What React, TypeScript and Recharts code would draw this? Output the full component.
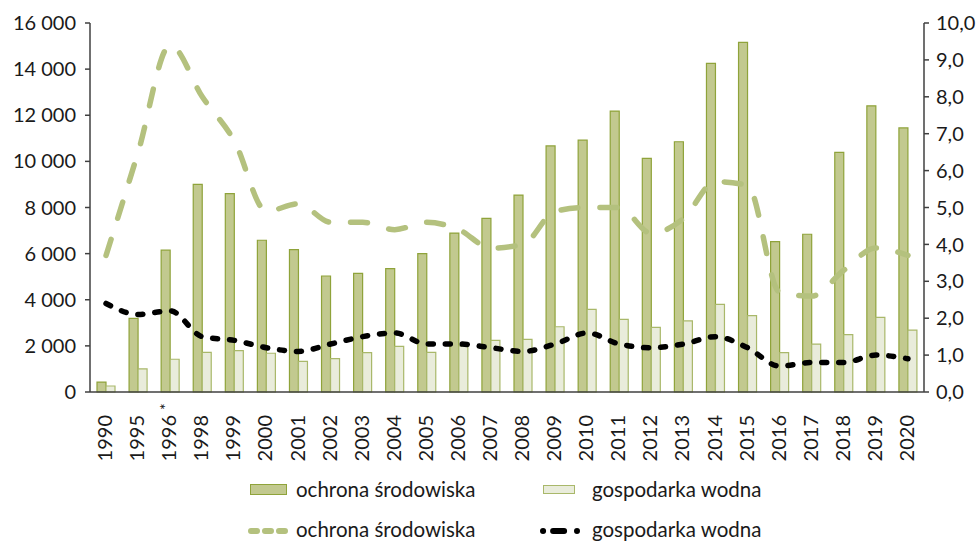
import { ComposedChart, Bar, Line, XAxis, YAxis } from 'recharts';

const years = [
  '1990', '1995', '1996', '1998', '1999', '2000', '2001', '2002', '2003', '2004', '2005', '2006', '2007',
  '2008', '2009', '2010', '2011', '2012', '2013', '2014', '2015', '2016', '2017', '2018', '2019', '2020',
];

// outlays, mln zł (left axis)
const ochronaNaklady = [
  430, 3190, 6150, 9000, 8600, 6580, 6170, 5030, 5140, 5350, 6000, 6890, 7530,
  8540, 10670, 10920, 12180, 10130, 10850, 14250, 15160, 6520, 6840, 10390, 12410, 11450,
];
const wodnaNaklady = [
  260, 1000, 1420, 1720, 1790, 1680, 1330, 1450, 1710, 1980, 1720, 2000, 2240,
  2280, 2830, 3580, 3150, 2800, 3080, 3800, 3310, 1710, 2080, 2490, 3240, 2680,
];

// share, % (right axis)
const ochronaUdzial = [
  3.7, 6.5, 9.4, 8.0, 6.8, 4.9, 5.1, 4.6, 4.6, 4.4, 4.6, 4.4, 3.9,
  4.0, 4.9, 5.0, 5.0, 4.3, 4.7, 5.7, 5.6, 2.7, 2.6, 3.3, 3.9, 3.7,
];
const wodnaUdzial = [
  2.4, 2.1, 2.2, 1.5, 1.4, 1.2, 1.1, 1.3, 1.5, 1.6, 1.3, 1.3, 1.2,
  1.1, 1.3, 1.6, 1.3, 1.2, 1.3, 1.5, 1.2, 0.7, 0.8, 0.8, 1.0, 0.9,
];

const leftTicks = [0, 2000, 4000, 6000, 8000, 10000, 12000, 14000, 16000];
const rightTicks = [0, 1, 2, 3, 4, 5, 6, 7, 8, 9, 10];

const FONT = 'Lato, "Open Sans", sans-serif';
const TEXT = '#1a1a1a';
const AXIS = '#404040';
const DARK_FILL = '#c2c98f';
const DARK_STROKE = '#8fa33a';
const LIGHT_FILL = '#e9ecdb';
const LIGHT_STROKE = '#a9b86a';
const LINE_GREEN = '#b4c17e';

const data = years.map((y, i) => ({
  year: y,
  ochrona: ochronaNaklady[i],
  wodna: wodnaNaklady[i],
  ochronaPct: ochronaUdzial[i],
  wodnaPct: wodnaUdzial[i],
}));

const fmtThousands = (v: number) => String(v).replace(/\B(?=(\d{3})+(?!\d))/g, ' ');
const fmtPct = (v: number) => v.toFixed(1).replace('.', ',');

function YearTick({ x, y, payload }: any) {
  const label: string = payload.value;
  return (
    <g transform={`translate(${x - 1},${y + 15}) rotate(-90)`}>
      <text x={0} y={0} dy="0.35em" textAnchor="end" fontFamily={FONT} fontSize={20} fill={TEXT}>
        {label}
      </text>
      {label === '1996' && (
        <text x={5} y={2} textAnchor="start" fontFamily={FONT} fontSize={16} fill={TEXT}>*</text>
      )}
    </g>
  );
}

function Legend() {
  const txt = { fontFamily: FONT, fontSize: 20.5, fill: TEXT };
  return (
    <svg width={979} height={72} style={{ position: 'absolute', left: 0, top: 470 }}>
      <rect x={250.5} y={14.5} width={36} height={10} fill={DARK_FILL} stroke={DARK_STROKE} />
      <text x={296} y={20} dy="0.35em" {...txt}>ochrona środowiska</text>
      <rect x={543.5} y={15.5} width={31} height={8} fill={LIGHT_FILL} stroke={LIGHT_STROKE} />
      <text x={592} y={20} dy="0.35em" {...txt}>gospodarka wodna</text>

      <line x1={251} y1={61} x2={285} y2={61} stroke={LINE_GREEN} strokeWidth={6} strokeLinecap="round" strokeDasharray="6 8" />
      <text x={296} y={60} dy="0.35em" {...txt}>ochrona środowiska</text>
      <line x1={543} y1={61} x2={577} y2={61} stroke="#000" strokeWidth={6} strokeLinecap="round" strokeDasharray="0.1 10 11 12.9 0.1 20" />
      <text x={592} y={60} dy="0.35em" {...txt}>gospodarka wodna</text>
    </svg>
  );
}

export default function App() {
  return (
    <div style={{ position: 'absolute', left: 0, top: 0, width: 979, height: 542, background: '#fff' }}>
      <ComposedChart
        width={979}
        height={470}
        data={data}
        margin={{ top: 23, right: 0, bottom: 0, left: 0 }}
        barGap={0}
        barSize={9}
      >
        <XAxis
          dataKey="year"
          height={78}
          interval={0}
          tickLine={false}
          axisLine={{ stroke: AXIS, strokeWidth: 1.5 }}
          tick={<YearTick />}
        />
        <YAxis
          yAxisId="left"
          width={90}
          domain={[0, 16000]}
          ticks={leftTicks}
          tickFormatter={fmtThousands}
          tickSize={5}
          tickMargin={9}
          axisLine={{ stroke: AXIS, strokeWidth: 1.5 }}
          tickLine={{ stroke: AXIS, strokeWidth: 1.5 }}
          tick={{ fontFamily: FONT, fontSize: 20, fill: TEXT }}
        />
        <YAxis
          yAxisId="right"
          orientation="right"
          width={55}
          domain={[0, 10]}
          ticks={rightTicks}
          tickFormatter={fmtPct}
          tickSize={5}
          tickMargin={7}
          axisLine={{ stroke: AXIS, strokeWidth: 1.5 }}
          tickLine={{ stroke: AXIS, strokeWidth: 1.5 }}
          tick={{ fontFamily: FONT, fontSize: 20, fill: TEXT }}
        />
        <Bar yAxisId="left" dataKey="ochrona" fill={DARK_FILL} stroke={DARK_STROKE} strokeWidth={1.2} isAnimationActive={false} />
        <Bar yAxisId="left" dataKey="wodna" fill={LIGHT_FILL} stroke={LIGHT_STROKE} strokeWidth={1.2} isAnimationActive={false} />
        <Line
          yAxisId="right"
          type="monotone"
          dataKey="ochronaPct"
          stroke={LINE_GREEN}
          strokeWidth={5.5}
          strokeLinecap="round"
          strokeDasharray="17 22"
          dot={false}
          activeDot={false}
          isAnimationActive={false}
        />
        <Line
          yAxisId="right"
          type="monotone"
          dataKey="wodnaPct"
          stroke="#000"
          strokeWidth={5.5}
          strokeLinecap="round"
          strokeDasharray="5 12"
          dot={false}
          activeDot={false}
          isAnimationActive={false}
        />
      </ComposedChart>
      <Legend />
    </div>
  );
}
